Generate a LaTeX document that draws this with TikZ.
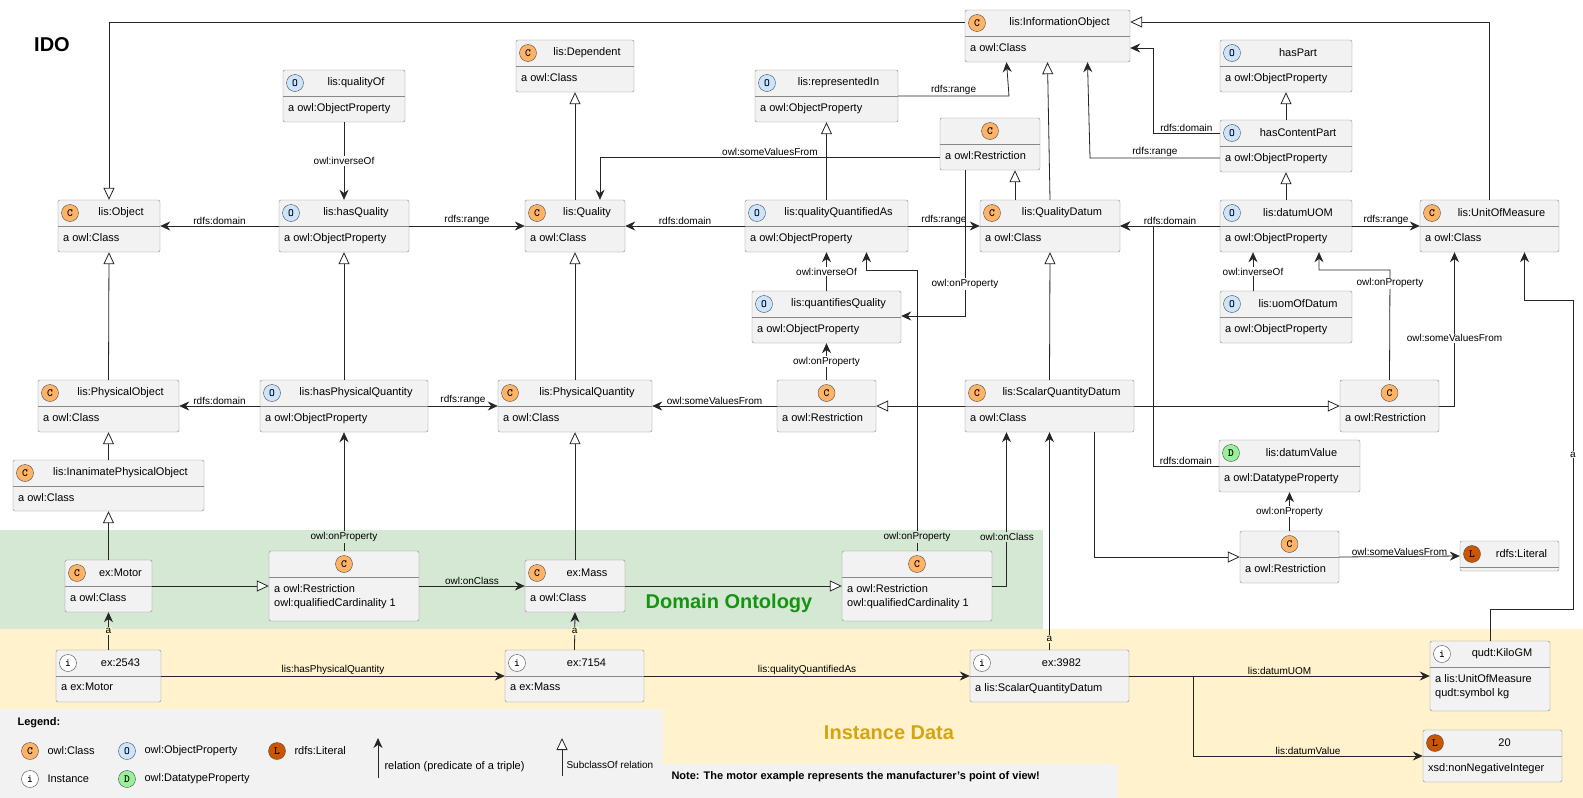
\documentclass[tikz,border=0pt]{standalone}
\usepackage{fontspec}
\setmainfont{Liberation Sans}
\usetikzlibrary{arrows.meta}

\definecolor{boxfill}{HTML}{F2F2F2}
\definecolor{boxline}{HTML}{888888}
\definecolor{icCfill}{HTML}{FFB366}
\definecolor{icOfill}{HTML}{CCE5FF}
\definecolor{icLfill}{HTML}{CC5500}
\definecolor{icDfill}{HTML}{99F099}
\definecolor{domband}{HTML}{D5E8D4}
\definecolor{instband}{HTML}{FFF2CC}
\definecolor{domtext}{HTML}{13950F}
\definecolor{insttext}{HTML}{D4A50E}

\tikzset{
  ent/.style={draw=boxline, fill=boxfill, rounded corners=2pt, inner sep=0pt},
  ic/.style={circle, draw=black!70, minimum size=17pt, inner sep=0pt, font=\ttfamily\bfseries\fontsize{11}{11}\selectfont},
  icC/.style={fill=icCfill}, icO/.style={fill=icOfill}, icL/.style={fill=icLfill},
  ici/.style={fill=white}, icD/.style={fill=icDfill},
  rel/.style={thick, draw=black!85, -{Stealth[length=10pt,width=9pt]}},
  sub/.style={thick, draw=black!85, -{Triangle[open,length=12pt,width=11pt,fill=white]}},
  lbl/.style={font=\fontsize{10}{10}\selectfont, inner sep=1pt},
  lblw/.style={lbl, fill=white},
}

% entity box: name, x1, y1, x2, y2, icon, title, body
\newcommand{\ent}[8]{%
  \pgfmathsetmacro{\entcx}{(#2+#4)/2}\pgfmathsetmacro{\entcy}{(#3+#5)/2}%
  \pgfmathsetmacro{\entw}{#4-#2}\pgfmathsetmacro{\enth}{#5-#3}%
  \node[ent, minimum width=\entw pt, minimum height=\enth pt] (#1) at (\entcx,\entcy) {};
  \draw[boxline] (#2,#3+26) -- (#4,#3+26);
  \if\relax\detokenize{#7}\relax
    \node[ic, ic#6] at (\entcx,#3+13) {#6};
  \else
    \node[ic, ic#6] at (#2+12,#3+13) {#6};
    \node[font=\fontsize{11}{11}\selectfont] at ({(#2+24+#4)/2},#3+13) {#7};
  \fi
  \node[anchor=north west, align=left, inner sep=0pt, font=\fontsize{11}{14}\selectfont] at (#2+5,#3+33) {#8};
}

\begin{document}
\begin{tikzpicture}[x=1pt, y=-1pt]
\useasboundingbox (0,0) rectangle (1583,798);
\fill[white] (0,0) rectangle (1583,798);
% bands
\fill[domband] (0,530) rectangle (1043,629);
\fill[instband] (0,629) rectangle (1583,798);
\fill[boxfill] (0,709) rectangle (663,798);
\fill[boxfill] (663,764) rectangle (1118,798);
\node[font=\bfseries\fontsize{20}{20}\selectfont] at (52,45) {IDO};
\node[font=\bfseries\fontsize{20}{20}\selectfont, text=domtext] at (729,603) {Domain Ontology};
\node[font=\bfseries\fontsize{20}{20}\selectfont, text=insttext] at (889,733) {Instance Data};
\node[font=\bfseries\fontsize{11}{11}\selectfont, anchor=west] at (668,777) {Note: The motor example represents the manufacturer's point of view!};

% upper ontology
\ent{obj}{58}{200}{160}{252}{C}{lis:Object}{a owl:Class}
\ent{qualOf}{283}{70}{405}{122}{O}{lis:qualityOf}{a owl:ObjectProperty}
\ent{dep}{516}{40}{634}{92}{C}{lis:Dependent}{a owl:Class}
\ent{hasQual}{279}{200}{409}{252}{O}{lis:hasQuality}{a owl:ObjectProperty}
\ent{qual}{525}{200}{625}{252}{C}{lis:Quality}{a owl:Class}
\ent{physObj}{38}{380}{179}{432}{C}{lis:PhysicalObject}{a owl:Class}
\ent{hasPQ}{260}{380}{428}{432}{O}{lis:hasPhysicalQuantity}{a owl:ObjectProperty}
\ent{physQ}{498}{380}{652}{432}{C}{lis:PhysicalQuantity}{a owl:Class}
\ent{inanim}{13}{460}{204}{511}{C}{lis:InanimatePhysicalObject}{a owl:Class}
\ent{infoObj}{965}{10}{1130}{62}{C}{lis:InformationObject}{a owl:Class}
\ent{reprIn}{755}{70}{898}{122}{O}{lis:representedIn}{a owl:ObjectProperty}
\ent{restTop}{940}{118}{1040}{170}{C}{}{a owl:Restriction}
\ent{hasPart}{1220}{40}{1352}{92}{O}{hasPart}{a owl:ObjectProperty}
\ent{hasCP}{1220}{120}{1352}{172}{O}{hasContentPart}{a owl:ObjectProperty}
\ent{qQA}{745}{200}{908}{252}{O}{lis:qualityQuantifiedAs}{a owl:ObjectProperty}
\ent{qDatum}{980}{200}{1120}{252}{C}{lis:QualityDatum}{a owl:Class}
\ent{datumUOM}{1220}{200}{1352}{252}{O}{lis:datumUOM}{a owl:ObjectProperty}
\ent{uom}{1420}{200}{1559}{252}{C}{lis:UnitOfMeasure}{a owl:Class}
\ent{quantQ}{752}{291}{901}{343}{O}{lis:quantifiesQuality}{a owl:ObjectProperty}
\ent{uomOf}{1220}{291}{1352}{343}{O}{lis:uomOfDatum}{a owl:ObjectProperty}
\ent{restMid}{777}{380}{876}{432}{C}{}{a owl:Restriction}
\ent{sqd}{965}{380}{1134}{432}{C}{lis:ScalarQuantityDatum}{a owl:Class}
\ent{restR}{1340}{380}{1439}{432}{C}{}{a owl:Restriction}
\ent{datumVal}{1219}{440}{1360}{492}{D}{lis:datumValue}{a owl:DatatypeProperty}
\ent{rest3}{1240}{531}{1339}{583}{C}{}{a owl:Restriction}
\ent{literal}{1460}{541}{1559}{571}{L}{rdfs:Literal}{}
% domain ontology
\ent{motor}{65}{560}{152}{612}{C}{ex:Motor}{a owl:Class}
\ent{rest1}{269}{551}{419}{621}{C}{}{a owl:Restriction\\owl:qualifiedCardinality 1}
\ent{mass}{525}{560}{625}{612}{C}{ex:Mass}{a owl:Class}
\ent{rest2}{842}{551}{992}{621}{C}{}{a owl:Restriction\\owl:qualifiedCardinality 1}
% instance data
\ent{ex2543}{56}{650}{161}{702}{i}{ex:2543}{a ex:Motor}
\ent{ex7154}{505}{650}{644}{702}{i}{ex:7154}{a ex:Mass}
\ent{ex3982}{970}{650}{1129}{702}{i}{ex:3982}{a lis:ScalarQuantityDatum}
\ent{kilo}{1430}{641}{1550}{711}{i}{qudt:KiloGM}{a lis:UnitOfMeasure\\qudt:symbol kg}
\ent{lit20}{1423}{730}{1562}{782}{L}{20}{xsd:nonNegativeInteger}

% subclass relations
\draw[sub] (infoObj.west |- 0,22) -| (obj.north);
\draw[sub] (uom.north) |- (infoObj.east |- 0,22);
\draw[sub] (qual.north) -- (dep.south);
\draw[sub] (qQA.north) -- (reprIn.south);
\draw[sub] (qDatum.north) -- (infoObj.south);
\draw[sub] (qDatum.north -| 1015,0) -- (restTop.south -| 1015,0);
\draw[sub] (hasCP.north) -- (hasPart.south);
\draw[sub] (datumUOM.north) -- (hasCP.south);
\draw[sub] (sqd.west) -- (restMid.east);
\draw[sub] (sqd.east) -- (restR.west);
\draw[sub] (sqd.north) -- (qDatum.south);
\draw[sub] (sqd.south -| 1094,0) |- (rest3.west);
\draw[sub] (physObj.north) -- (obj.south);
\draw[sub] (inanim.north) -- (physObj.south);
\draw[sub] (motor.north) -- (inanim.south);
\draw[sub] (hasPQ.north) -- (hasQual.south);
\draw[sub] (physQ.north) -- (qual.south);
\draw[sub] (mass.north) -- (physQ.south);
\draw[sub] (motor.east) -- (rest1.west);
\draw[sub] (mass.east) -- (rest2.west);

% relations
\draw[rel] (qualOf.south) -- node[lblw] {owl:inverseOf} (hasQual.north);
\draw[rel] (hasQual.west) -- node[lbl, above] {rdfs:domain} (obj.east);
\draw[rel] (hasQual.east) -- node[lbl, above] {rdfs:range} (qual.west);
\draw[rel] (restTop.west |- 0,157) -- node[lbl, above] {owl:someValuesFrom} (600,157) -- ([xshift=25pt]qual.north);
\draw[rel] (qQA.west) -- node[lbl, above] {rdfs:domain} (qual.east);
\draw[rel] (qQA.east) -- node[lbl, above] {rdfs:range} (qDatum.west);
\draw[rel] (reprIn.east |- 0,96) -- node[lbl, above] {rdfs:range} (1009,96) -- ([xshift=-41pt]infoObj.south);
\draw[rel] (restTop.south -| 965,0) -- node[lblw, pos=0.78] {owl:onProperty} (965,316) -- (quantQ.east |- 0,316);
\draw[rel] (quantQ.north) -- node[lblw] {owl:inverseOf} (qQA.south);
\draw[rel] (rest2.north) -- (917,270) -| ([xshift=40pt]qQA.south);
\node[lbl, fill=domband] at (917,537) {owl:onProperty};
\draw[rel] ([yshift=13pt]hasCP.west) -- node[lbl, above] {rdfs:domain} (1153,133) |- (infoObj.east |- 0,48);
\draw[rel] ([yshift=-12pt]hasCP.west) -- node[lbl, above] {rdfs:range} (1090,158) -- ([xshift=40pt]infoObj.south);
\draw[rel] (datumUOM.west) -- node[lbl, above] {rdfs:domain} (qDatum.east);
\draw[rel] (datumUOM.east) -- node[lbl, above] {rdfs:range} (uom.west);
\draw[rel] (uomOf.north -| 1253,0) -- node[lblw] {owl:inverseOf} (datumUOM.south -| 1253,0);
\draw[rel] (restR.north) -- node[lblw, pos=0.88] {owl:onProperty} (1390,270) -| ([xshift=33pt]datumUOM.south);
\draw[rel] (restR.east) -| node[lblw, pos=0.72] {owl:someValuesFrom} ([xshift=-35pt]uom.south);
\draw[rel] (restMid.north) -- node[lblw] {owl:onProperty} (quantQ.south);
\draw[rel] (restMid.west) -- node[lbl, above] {owl:someValuesFrom} (physQ.east);
\draw[rel] (datumVal.west) -- node[lbl, above] {rdfs:domain} (1153,466) -- (1153,226) -- (qDatum.east);
\draw[rel] (rest3.north) -- node[lblw] {owl:onProperty} (datumVal.south);
\draw[rel] (rest3.east) -- node[lbl, above] {owl:someValuesFrom} (literal.west);
\draw[rel] (rest2.east) -| ([xshift=-43pt]sqd.south);
\node[lbl, fill=domband] at (1007,537) {owl:onClass};
\draw[rel] (ex3982.north) -- node[lbl, fill=instband, pos=0.05] {a} (sqd.south);
\draw[rel] (kilo.north) |- (1573,609) -- node[lblw] {a} (1573,300) -| ([xshift=35pt]uom.south);
\draw[rel] (ex3982.east) -- node[lbl, above] {lis:datumUOM} (kilo.west);
\draw[rel] ([xshift=64pt]ex3982.east) |- node[lbl, above, pos=0.75] {lis:datumValue} (lit20.west);
\draw[rel] (hasPQ.west) -- node[lbl, above] {rdfs:domain} (physObj.east);
\draw[rel] (hasPQ.east) -- node[lbl, above] {rdfs:range} (physQ.west);
\draw[rel] (rest1.north) -- (hasPQ.south);
\node[lbl, fill=domband] at (344,537) {owl:onProperty};
\draw[rel] (rest1.east) -- node[lbl, above] {owl:onClass} (mass.west);
\draw[rel] (ex2543.north) -- node[lbl, fill=instband] {a} (motor.south);
\draw[rel] (ex7154.north) -- node[lbl, fill=instband] {a} (mass.south);
\draw[rel] (ex2543.east) -- node[lbl, above] {lis:hasPhysicalQuantity} (ex7154.west);
\draw[rel] (ex7154.east) -- node[lbl, above] {lis:qualityQuantifiedAs} (ex3982.west);

% legend
\node[font=\bfseries\fontsize{11}{11}\selectfont, anchor=west] at (14,723) {Legend:};
\node[ic, icC] (lgC) at (30,751) {C};
\node[anchor=west, font=\fontsize{11}{11}\selectfont] at (44,751) {owl:Class};
\node[ic, icO] (lgO) at (127,751) {O};
\node[anchor=west, font=\fontsize{11}{11}\selectfont] at (141,751) {owl:ObjectProperty};
\node[ic, icL] (lgL) at (277,751) {L};
\node[anchor=west, font=\fontsize{11}{11}\selectfont] at (291,751) {rdfs:Literal};
\node[ic, ici] (lgI) at (30,779) {i};
\node[anchor=west, font=\fontsize{11}{11}\selectfont] at (44,779) {Instance};
\node[ic, icD] (lgD) at (127,779) {D};
\node[anchor=west, font=\fontsize{11}{11}\selectfont] at (141,779) {owl:DatatypeProperty};
\coordinate (lgRa) at (378,778);
\coordinate (lgRb) at (378,738);
\draw[rel] (lgRa) -- (lgRb);
\node[anchor=west, font=\fontsize{11}{11}\selectfont] at (381,767) {relation (predicate of a triple)};
\coordinate (lgSa) at (562,776);
\coordinate (lgSb) at (562,738);
\draw[sub] (lgSa) -- (lgSb);
\node[anchor=west, font=\fontsize{10}{10}\selectfont] at (563,765) {SubclassOf relation};
\end{tikzpicture}
\end{document}
